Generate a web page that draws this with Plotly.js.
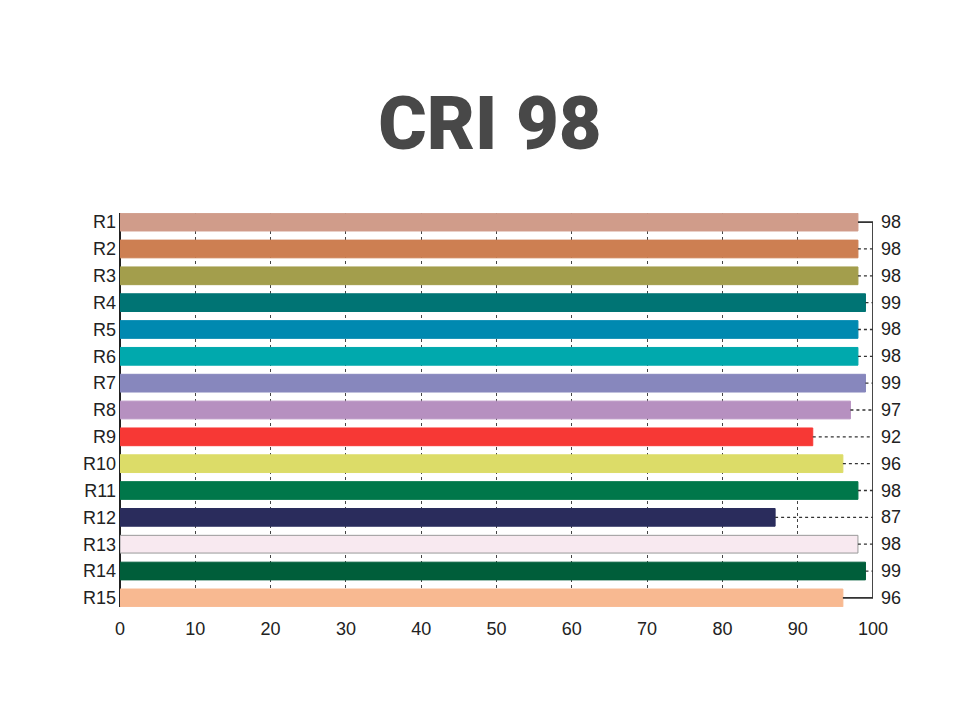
<!DOCTYPE html>
<html>
<head>
<meta charset="utf-8">
<script src="https://cdn.plot.ly/plotly-3.0.1.min.js"></script>
<style>html,body{margin:0;padding:0;background:#fff;}#chart{width:980px;height:722px;}</style>
</head>
<body>
<div id="chart"></div>
<script>
const categories = ["R1","R2","R3","R4","R5","R6","R7","R8","R9","R10","R11","R12","R13","R14","R15"];
const values = [98,98,98,99,98,98,99,97,92,96,98,87,98,99,96];
const barColors = ["#d09c8a","#cd7f52","#a39e4c","#007474","#0089b0","#00a9ad","#8787bd","#b690c0","#f73835","#dcdc68","#00774a","#2a2c5c","#f8e9f0","#005e3a","#f8b991"];
const outlineColors = ["#d09c8a","#cd7f52","#a39e4c","#007474","#0089b0","#00a9ad","#8787bd","#b690c0","#f73835","#dcdc68","#00774a","#2a2c5c","#999999","#005e3a","#f8b991"];
const maxValue = 100;
const xTicks = [0,10,20,30,40,50,60,70,80,90,100];

const traces = [];
categories.forEach((c, i) => {
  const solid = (i === 0 || i === categories.length - 1);
  traces.push({
    type: 'scatter', mode: 'lines',
    x: [values[i], maxValue], y: [c, c],
    line: {color: '#333', width: solid ? 1.8 : 1.3, dash: solid ? 'solid' : 'dot'},
    hoverinfo: 'skip', showlegend: false
  });
});
traces.push({
  type: 'scatter', mode: 'lines',
  x: [maxValue, maxValue], y: [categories[0], categories[categories.length - 1]],
  line: {color: '#333', width: 1.8},
  hoverinfo: 'skip', showlegend: false, cliponaxis: false
});
traces.push({
  type: 'bar', orientation: 'h',
  x: values, y: categories,
  width: 0.66,
  marker: {color: barColors, line: {color: outlineColors, width: 1}},
  hoverinfo: 'x+y', showlegend: false
});

const annotations = categories.map((c, i) => ({
  x: maxValue, y: c, xref: 'x', yref: 'y',
  text: String(values[i]), showarrow: false,
  xanchor: 'left', yanchor: 'middle', xshift: 6,
  font: {family: 'Liberation Sans, Arial, sans-serif', size: 18, color: '#222'}
}));

const layout = {
  width: 980, height: 722,
  paper_bgcolor: '#fff', plot_bgcolor: '#fff',
  margin: {l: 120, r: 107, t: 213, b: 115},
  title: {
    text: 'CRI 98',
    font: {family: 'Roboto, Inter, sans-serif', size: 74, color: '#484848', weight: 900},
    x: 0.5, xanchor: 'center', y: 0.83, yanchor: 'middle'
  },
  xaxis: {
    range: [0, 100], tickvals: xTicks, ticktext: xTicks.map(String),
    showgrid: true, gridcolor: '#444', griddash: 'dot', gridwidth: 1,
    zeroline: true, zerolinecolor: '#222', zerolinewidth: 2,
    showline: false, ticks: '', ticklabelstandoff: 9,
    tickfont: {family: 'Liberation Sans, Arial, sans-serif', size: 18, color: '#222'},
    fixedrange: true
  },
  yaxis: {
    type: 'category', range: [14.34, -0.34],
    showgrid: false, zeroline: false, showline: false, ticks: '',
    ticklabelstandoff: 3,
    tickfont: {family: 'Liberation Sans, Arial, sans-serif', size: 18, color: '#222'},
    fixedrange: true
  },
  annotations: annotations
};

Plotly.newPlot('chart', traces, layout, {displayModeBar: false, staticPlot: true});
</script>
</body>
</html>
